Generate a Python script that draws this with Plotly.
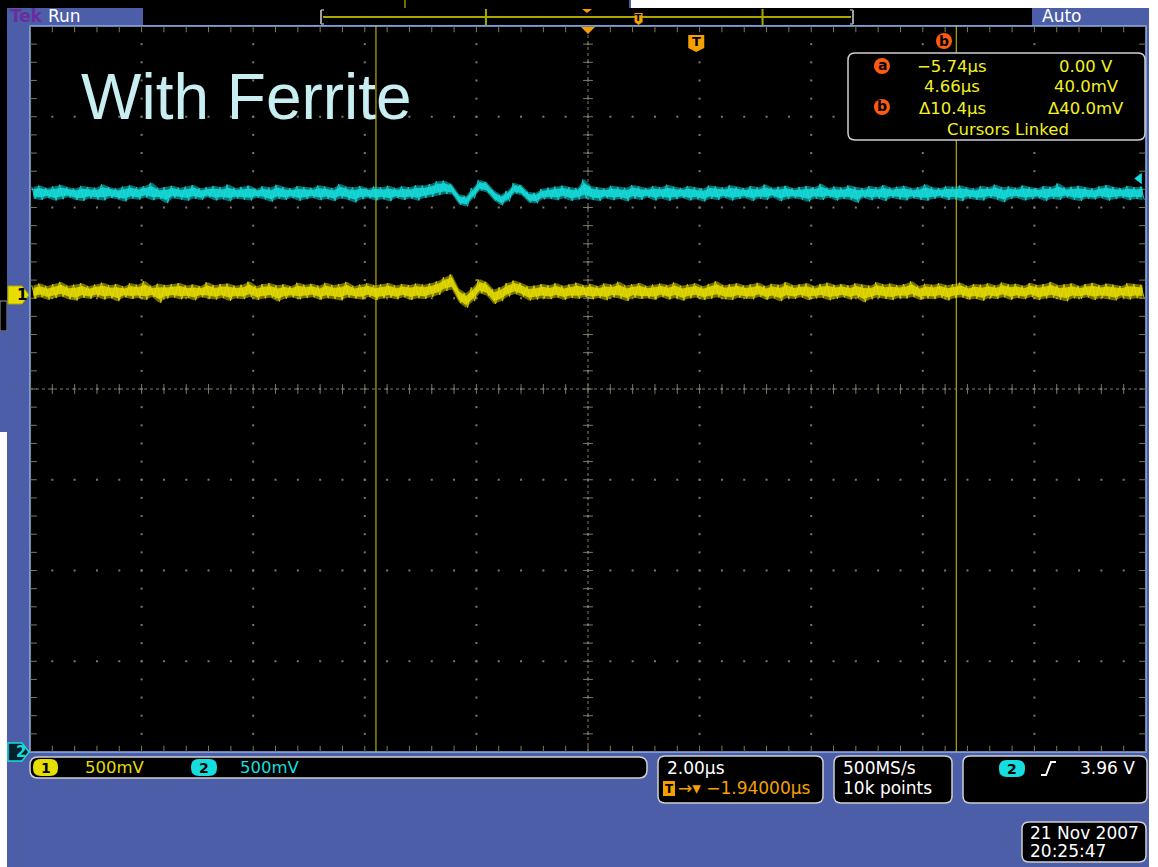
import numpy as np
import plotly.graph_objects as go

W, H = 1158, 867

# ---- acquisition settings -------------------------------------------------
ch1_scale_mv = 500
ch2_scale_mv = 500
ch1_pos_div = 1.04          # ch1 ground marker position (divisions)
ch2_pos_div = -5.6          # ch2 ground sits below the screen
time_per_div_us = 2.0
center_time_us = -1.94      # horizontal delay
trigger_level_v = 3.96
cursor_times_us = [-5.74, 4.66]
cursor_levels_mv = [0.0, 40.0]
sample_rate = "500MS/s"
record_length = "10k points"
timestamp = ["21 Nov 2007", "20:25:47"]
title_text = "With Ferrite"

# ---- peak-detect envelopes (max / min per time bin, mV) -------------------
ch2_max_mv = [
    3914, 3921, 3908, 3917, 3926, 3911, 3905, 3919, 3913, 3909,
    3928, 3912, 3904, 3916, 3922, 3910, 3918, 3936, 3907, 3913,
    3920, 3909, 3915, 3924, 3906, 3912, 3919, 3911, 3927, 3908,
    3914, 3921, 3903, 3917, 3910, 3925, 3913, 3906, 3918, 3912,
    3909, 3922, 3915, 3907, 3930, 3914, 3911, 3919, 3905, 3916,
    3912, 3920, 3908, 3917, 3911, 3923, 3921, 3929, 3945, 3948,
    3930, 3875, 3864, 3908, 3952, 3941, 3897, 3870, 3892, 3935,
    3924, 3886, 3881, 3903, 3910, 3916, 3921, 3912, 3908, 3955,
    3917, 3912, 3906, 3920, 3913, 3909, 3924, 3915, 3907, 3918,
    3911, 3926, 3914, 3908, 3919, 3912, 3905, 3921, 3916, 3910,
    3923, 3913, 3907, 3918, 3911, 3927, 3909, 3915, 3920, 3906,
    3914, 3919, 3912, 3931, 3908, 3916, 3910, 3922, 3913, 3907,
    3918, 3911, 3924, 3909, 3915, 3920, 3906, 3913, 3928, 3912,
    3908, 3917, 3914, 3921, 3910, 3905, 3919, 3913, 3926, 3911,
    3916, 3909, 3922, 3912, 3907, 3918, 3914, 3933, 3910, 3915,
    3920, 3911, 3906, 3917, 3924, 3913, 3908, 3919, 3912, 3916,
]
ch2_min_mv = [
    3848, 3841, 3853, 3838, 3845, 3856, 3842, 3836, 3850, 3844,
    3839, 3852, 3846, 3833, 3849, 3843, 3855, 3840, 3847, 3824,
    3851, 3844, 3837, 3849, 3842, 3856, 3839, 3846, 3834, 3850,
    3843, 3838, 3854, 3845, 3831, 3848, 3841, 3852, 3837, 3846,
    3853, 3840, 3847, 3836, 3850, 3843, 3828, 3845, 3851, 3839,
    3846, 3835, 3852, 3841, 3849, 3838, 3852, 3858, 3868, 3874,
    3872, 3817, 3806, 3850, 3894, 3883, 3839, 3812, 3834, 3877,
    3866, 3828, 3823, 3845, 3848, 3840, 3851, 3837, 3845, 3850,
    3843, 3836, 3851, 3840, 3847, 3834, 3849, 3842, 3855, 3838,
    3850, 3837, 3845, 3852, 3839, 3846, 3833, 3848, 3841, 3854,
    3838, 3847, 3853, 3836, 3849, 3842, 3857, 3835, 3846, 3851,
    3844, 3832, 3850, 3841, 3855, 3838, 3847, 3843, 3826, 3852,
    3840, 3849, 3836, 3853, 3845, 3839, 3851, 3842, 3837, 3848,
    3854, 3841, 3846, 3835, 3850, 3843, 3838, 3852, 3844, 3829,
    3847, 3853, 3839, 3845, 3851, 3836, 3848, 3841, 3855, 3843,
    3836, 3849, 3844, 3852, 3838, 3846, 3853, 3840, 3847, 3842,
]
ch1_max_mv = [
    52, 61, 47, 58, 70, 49, 55, 63, 46, 57,
    66, 51, 59, 45, 62, 54, 75, 48, 60, 53,
    57, 64, 50, 56, 47, 68, 52, 59, 61, 49,
    55, 72, 48, 58, 63, 51, 57, 46, 66, 54,
    60, 49, 65, 53, 58, 70, 47, 56, 62, 51,
    57, 64, 50, 59, 53, 61, 55, 62, 74, 96,
    112, 34, 8, 40, 84, 70, 28, 41, 64, 78,
    64, 46, 50, 58, 51, 63, 49, 57, 66, 52,
    59, 47, 62, 55, 71, 50, 58, 64, 48, 56,
    61, 53, 67, 49, 57, 62, 46, 59, 74, 52,
    58, 63, 50, 56, 65, 48, 60, 54, 69, 51,
    57, 62, 47, 59, 66, 53, 58, 50, 63, 55,
    49, 68, 56, 61, 52, 58, 73, 47, 60, 54,
    63, 51, 57, 66, 48, 59, 55, 62, 50, 67,
    56, 60, 49, 64, 53, 58, 70, 51, 57, 62,
    48, 59, 65, 52, 61, 55, 47, 63, 58, 54,
]
ch1_min_mv = [
    -22, -14, -28, -19, -11, -25, -33, -17, -23, -12,
    -27, -20, -36, -15, -24, -18, -29, -13, -45, -21,
    -16, -26, -19, -31, -14, -22, -27, -18, -34, -20,
    -25, -13, -29, -21, -17, -38, -23, -15, -26, -19,
    -14, -28, -20, -24, -32, -16, -22, -27, -13, -30,
    -21, -17, -26, -14, -29, -20, -24, -14, -2, 20,
    28, -44, -72, -36, 8, -6, -52, -36, -10, 4,
    -10, -32, -28, -20, -25, -16, -28, -19, -23, -14,
    -26, -18, -31, -15, -22, -35, -17, -24, -20, -28,
    -13, -27, -19, -33, -21, -16, -29, -23, -14, -25,
    -30, -17, -22, -26, -12, -28, -20, -36, -18, -24,
    -15, -29, -21, -17, -31, -23, -14, -27, -19, -42,
    -26, -16, -24, -30, -18, -22, -13, -28, -21, -25,
    -17, -32, -20, -15, -27, -23, -34, -18, -24, -14,
    -28, -19, -25, -13, -30, -21, -17, -26, -37, -20,
    -23, -15, -29, -18, -24, -32, -16, -27, -20, -22,
]

# ---- colours ---------------------------------------------------------------
FRAME = "#4b5ea7"
BORDER = "#8fb2ea"
BOX_EDGE = "#cfcfcf"
CH1 = "#e6de00"
CH2 = "#16dede"
ORANGE = "#f5a000"
CURSOR_DOT = "#ff5a10"
READOUT = "#f2f21e"
GRID = "#7d7868"
FONT = "DejaVu Sans"

# ---- pixel helpers for the instrument chrome -------------------------------
def X(px):
    return px / W


def Y(py):
    return 1 - py / H


GX0, GX1, GY0, GY1 = 30, 1146, 26, 752   # graticule box


def rect(x0, y0, x1, y1, fill, line=None, width=0, layer="below"):
    return dict(type="rect", xref="paper", yref="paper",
                x0=X(x0), x1=X(x1), y0=Y(y1), y1=Y(y0),
                fillcolor=fill, line=dict(color=line or fill, width=width),
                layer=layer)


def rrect(x0, y0, x1, y1, r, fill, line, width=1.5, layer="above"):
    p = (f"M{X(x0 + r)},{Y(y0)} L{X(x1 - r)},{Y(y0)} Q{X(x1)},{Y(y0)} {X(x1)},{Y(y0 + r)} "
         f"L{X(x1)},{Y(y1 - r)} Q{X(x1)},{Y(y1)} {X(x1 - r)},{Y(y1)} "
         f"L{X(x0 + r)},{Y(y1)} Q{X(x0)},{Y(y1)} {X(x0)},{Y(y1 - r)} "
         f"L{X(x0)},{Y(y0 + r)} Q{X(x0)},{Y(y0)} {X(x0 + r)},{Y(y0)} Z")
    return dict(type="path", xref="paper", yref="paper", path=p,
                fillcolor=fill, line=dict(color=line, width=width), layer=layer)


def poly(points, fill, line=None, width=0, layer="above"):
    p = "M" + " L".join(f"{X(a)},{Y(b)}" for a, b in points) + " Z"
    return dict(type="path", xref="paper", yref="paper", path=p,
                fillcolor=fill, line=dict(color=line or fill, width=width), layer=layer)


def seg(x0, y0, x1, y1, color, width=1, layer="above"):
    return dict(type="line", xref="paper", yref="paper",
                x0=X(x0), x1=X(x1), y0=Y(y0), y1=Y(y1),
                line=dict(color=color, width=width), layer=layer)


def circ(cx, cy, r, fill):
    return dict(type="circle", xref="paper", yref="paper",
                x0=X(cx - r), x1=X(cx + r), y0=Y(cy + r), y1=Y(cy - r),
                fillcolor=fill, line=dict(width=0), layer="above")


def label(px, py, text, color, size=16, anchor="left", family=FONT, bold=False):
    if bold:
        text = f"<b>{text}</b>"
    return dict(xref="paper", yref="paper", x=X(px), y=Y(py), text=text,
                showarrow=False, xanchor=anchor, yanchor="middle",
                font=dict(family=family, size=size, color=color))


# ---- time base ------------------------------------------------------------
t_left = center_time_us - 5 * time_per_div_us
t_right = center_time_us + 5 * time_per_div_us
n_bins = len(ch1_max_mv)
edges = np.linspace(t_left, t_right, n_bins + 1)
t_mid = 0.5 * (edges[:-1] + edges[1:])
dt = edges[1] - edges[0]


def to_div(mv, scale, pos):
    return np.asarray(mv, dtype=float) / scale + pos


def zigzag(hi, lo):
    tz = np.empty(2 * n_bins)
    vz = np.empty(2 * n_bins)
    tz[0::2] = t_mid - dt / 4
    tz[1::2] = t_mid + dt / 4
    vz[0::2] = hi
    vz[1::2] = lo
    return tz, vz


fig = go.Figure()

# ---- graticule -------------------------------------------------------------
def tdiv(k):
    return center_time_us + k * time_per_div_us


gx, gy = [], []
for k in range(-5, 6):                       # vertical grid lines
    for m in range(-20, 21):
        gx.append(tdiv(k)); gy.append(m / 5)
for j in range(-4, 5):                       # horizontal grid lines
    for m in range(-25, 26):
        gx.append(tdiv(m / 5)); gy.append(j)
fig.add_trace(go.Scatter(x=gx, y=gy, mode="markers", hoverinfo="skip",
                         marker=dict(symbol="square", size=2, color=GRID, line_width=0)))

# centre cross (fine dotted) with minor ticks
fig.add_trace(go.Scatter(x=[t_left, t_right], y=[0, 0], mode="lines", hoverinfo="skip",
                         line=dict(color=GRID, width=1, dash="dot")))
fig.add_trace(go.Scatter(x=[center_time_us, center_time_us], y=[-4, 4], mode="lines",
                         hoverinfo="skip", line=dict(color=GRID, width=1, dash="dot")))
fig.add_trace(go.Scatter(x=[tdiv(m / 5) for m in range(-25, 26)], y=[0] * 51, mode="markers",
                         hoverinfo="skip",
                         marker=dict(symbol="line-ns", size=7, line=dict(color=GRID, width=1))))
fig.add_trace(go.Scatter(x=[center_time_us] * 41, y=[m / 5 for m in range(-20, 21)],
                         mode="markers", hoverinfo="skip",
                         marker=dict(symbol="line-ew", size=7, line=dict(color=GRID, width=1))))
# edge ticks
fig.add_trace(go.Scatter(x=[tdiv(m / 5) for m in range(-25, 26)] * 2,
                         y=[3.97] * 51 + [-3.97] * 51, mode="markers", hoverinfo="skip",
                         marker=dict(symbol="line-ns", size=5, line=dict(color=GRID, width=1))))
fig.add_trace(go.Scatter(x=[tdiv(-4.97)] * 41 + [tdiv(4.97)] * 41,
                         y=[m / 5 for m in range(-20, 21)] * 2, mode="markers", hoverinfo="skip",
                         marker=dict(symbol="line-ew", size=5, line=dict(color=GRID, width=1))))

# ---- waveforms: dim envelope, bright core, peak strokes --------------------
for hi_mv, lo_mv, scale, pos, col, rgb in [
    (ch2_max_mv, ch2_min_mv, ch2_scale_mv, ch2_pos_div, CH2, "22,222,222"),
    (ch1_max_mv, ch1_min_mv, ch1_scale_mv, ch1_pos_div, CH1, "230,222,0"),
]:
    hi = to_div(hi_mv, scale, pos)
    lo = to_div(lo_mv, scale, pos)
    mid = 0.5 * (hi + lo)
    half = 0.5 * (hi - lo)
    fig.add_trace(go.Scatter(x=t_mid, y=hi, mode="lines", hoverinfo="skip",
                             line=dict(width=0, color=col)))
    fig.add_trace(go.Scatter(x=t_mid, y=lo, mode="lines", hoverinfo="skip", fill="tonexty",
                             fillcolor=f"rgba({rgb},0.5)", line=dict(width=0, color=col)))
    tz, vz = zigzag(hi, lo)
    fig.add_trace(go.Scatter(x=tz, y=vz, mode="lines", hoverinfo="skip", opacity=0.85,
                             line=dict(width=1, color=col)))
    fig.add_trace(go.Scatter(x=t_mid, y=mid + 0.62 * half, mode="lines", hoverinfo="skip",
                             line=dict(width=0, color=col)))
    fig.add_trace(go.Scatter(x=t_mid, y=mid - 0.62 * half, mode="lines", hoverinfo="skip",
                             fill="tonexty", fillcolor=f"rgba({rgb},0.85)",
                             line=dict(width=0, color=col)))

# trigger level arrow on the right edge
trig_div = trigger_level_v * 1000 / ch2_scale_mv + ch2_pos_div
fig.add_trace(go.Scatter(x=[t_right - 0.12], y=[trig_div], mode="markers", hoverinfo="skip",
                         cliponaxis=False,
                         marker=dict(symbol="triangle-left", size=10, color=CH2)))

# ---- shapes: screen chrome ------------------------------------------------
shapes = [
    rect(0, 0, 630, 8, "#000000"),
    rect(0, 0, 7, 301, "#000000"),
    rect(0, 301, 7, 331, "#000000", line="#9a9a9a", width=1),
    rect(0, 331, 7, 432, FRAME),
    rect(7, 8, 1149, 867, FRAME),
    seg(630, 0, 630, 8, FRAME, 2, "below"),
    seg(405, 0, 405, 8, CH1, 1, "below"),
    rect(143, 8, 1032, 25, "#000000"),
    rect(GX0, GY0, GX1, GY1, "#000000", line=BORDER, width=1.5),
]

# record view: whole record mapped onto the bracket
rec_x0, rec_x1 = 321, 853


def rec_px(t):
    return rec_x0 + (t - t_left) / (t_right - t_left) * (rec_x1 - rec_x0)


shapes += [
    seg(rec_x0 + 2, 17, rec_x1 - 2, 17, CH1, 1.5),
    seg(rec_x0, 10, rec_x0, 24, "#a0a0a0", 2),
    seg(rec_x1, 10, rec_x1, 24, "#a0a0a0", 2),
    seg(rec_x0, 10, rec_x0 + 3, 10, "#a0a0a0", 1.5),
    seg(rec_x0, 24, rec_x0 + 3, 24, "#a0a0a0", 1.5),
    seg(rec_x1 - 3, 10, rec_x1, 10, "#a0a0a0", 1.5),
    seg(rec_x1 - 3, 24, rec_x1, 24, "#a0a0a0", 1.5),
]
for ct in cursor_times_us:
    shapes.append(seg(rec_px(ct), 9, rec_px(ct), 25, "#a8a800", 2))
cx = rec_px(center_time_us)
shapes.append(poly([(cx - 5, 9), (cx + 5, 9), (cx, 13)], ORANGE))
tx = rec_px(0.0)
shapes.append(poly([(tx - 4, 13), (tx + 4, 13), (tx + 4, 22), (tx, 25), (tx - 4, 22)], ORANGE))

# cursor lines in the graticule
for ct in cursor_times_us:
    shapes.append(dict(type="line", xref="x", yref="paper", x0=ct, x1=ct,
                       y0=Y(GY1), y1=Y(GY0), line=dict(color="#d8cc00", width=1), layer="below"))

# horizontal position marker and trigger point marker
gcx = GX0 + (GX1 - GX0) / 2
shapes.append(poly([(gcx - 7, 27), (gcx + 7, 27), (gcx, 34)], ORANGE))
gtx = GX0 + (0.0 - t_left) / (t_right - t_left) * (GX1 - GX0)
shapes.append(poly([(gtx - 8, 35), (gtx + 8, 35), (gtx + 8, 48), (gtx, 52), (gtx - 8, 48)], ORANGE))

# channel ground markers
shapes.append(poly([(8, 286), (22, 286), (29, 295), (22, 304), (8, 304)], CH1, line="#b0a800", width=1))
shapes.append(poly([(8, 743), (22, 743), (29, 752), (22, 761), (8, 761)], "#04222a", line=CH2, width=1.5))

# cursor readout
shapes.append(rrect(848, 53, 1145, 140, 7, "#000000", BOX_EDGE))
shapes += [circ(882, 66, 8, CURSOR_DOT), circ(882, 107, 8, CURSOR_DOT), circ(944, 41, 8, CURSOR_DOT)]

# bottom status boxes
shapes += [
    rrect(30, 757, 647, 778, 8, "#000000", BOX_EDGE),
    rrect(658, 756, 823, 803, 7, "#000000", BOX_EDGE),
    rrect(834, 756, 952, 803, 7, "#000000", BOX_EDGE),
    rrect(963, 756, 1147, 803, 7, "#000000", BOX_EDGE),
    rrect(1022, 822, 1146, 862, 7, "#000000", BOX_EDGE),
    rrect(33, 759, 58, 776, 8, CH1, CH1, 0),
    rrect(191, 759, 217, 776, 8, CH2, CH2, 0),
    rrect(999, 760, 1025, 777, 8, CH2, CH2, 0),
    rect(663, 781, 675, 796, ORANGE, layer="above"),
    dict(type="path", xref="paper", yref="paper",
         path=f"M{X(1041)},{Y(775)} L{X(1046)},{Y(775)} L{X(1051)},{Y(762)} L{X(1056)},{Y(762)}",
         line=dict(color="#ffffff", width=2), layer="above"),
]

# ---- text -------------------------------------------------------------------
def fmt_time(t):
    s = f"{abs(t):.2f}µs" if abs(t) < 10 else f"{abs(t):.1f}µs"
    return ("−" if t < 0 else "") + s


def fmt_volt(mv):
    return f"{mv / 1000:.2f} V" if mv == 0 else f"{mv:.1f}mV"


d_t = cursor_times_us[1] - cursor_times_us[0]
d_v = cursor_levels_mv[1] - cursor_levels_mv[0]

ann = [
    label(8, 16.5, "Tek", "#6a2c9e", 17, bold=True),
    label(46, 16.5, "Run", "#ffffff", 17),
    label(1040, 16.5, "Auto", "#ffffff", 17),
    label(79, 97, title_text, "#c8eef2", 64, family="Liberation Sans"),
    label(gtx, 42, "T", "#000000", 13, anchor="center", bold=True),
    label(tx, 18, "T", "#000000", 9, anchor="center", bold=True),
    label(944, 41, "b", "#000000", 14, anchor="center", bold=True),
    label(882, 65, "a", "#000000", 14, anchor="center", bold=True),
    label(882, 106, "b", "#000000", 14, anchor="center", bold=True),
    label(952, 66, fmt_time(cursor_times_us[0]), READOUT, 16.5, anchor="center"),
    label(1086, 66, fmt_volt(cursor_levels_mv[0]), READOUT, 16.5, anchor="center"),
    label(952, 87, fmt_time(cursor_times_us[1]), READOUT, 16.5, anchor="center"),
    label(1086, 87, fmt_volt(cursor_levels_mv[1]), READOUT, 16.5, anchor="center"),
    label(952, 108, "Δ" + (f"{d_t:.1f}µs"), READOUT, 16.5, anchor="center"),
    label(1086, 108, "Δ" + fmt_volt(d_v), READOUT, 16.5, anchor="center"),
    label(1008, 129, "Cursors Linked", READOUT, 16.5, anchor="center"),
    label(15, 295, "1", "#000000", 15, bold=True),
    label(14, 752, "2", CH2, 15, bold=True),
    label(45.5, 767.5, "1", "#000000", 14, anchor="center", bold=True),
    label(83, 767.5, f"{ch1_scale_mv}mV", CH1, 16.5),
    label(204, 767.5, "2", "#000000", 14, anchor="center", bold=True),
    label(238, 767.5, f"{ch2_scale_mv}mV", CH2, 16.5),
    label(665, 768, f"{time_per_div_us:.2f}µs", "#ffffff", 17),
    label(669, 788.5, "T", "#000000", 12, anchor="center", bold=True),
    label(676, 788, "→▾ " + fmt_time(center_time_us).replace("µs", "000µs"), ORANGE, 17),
    label(841, 768, sample_rate, "#ffffff", 17),
    label(841, 788, record_length, "#ffffff", 17),
    label(1012, 768.5, "2", "#000000", 14, anchor="center", bold=True),
    label(1137, 768, f"{trigger_level_v:.2f} V", "#ffffff", 17, anchor="right"),
    label(1028, 833, timestamp[0], "#ffffff", 17),
    label(1028, 851, timestamp[1], "#ffffff", 17),
]

fig.update_layout(
    width=W, height=H,
    margin=dict(l=0, r=0, t=0, b=0, pad=0),
    paper_bgcolor="#ffffff",
    plot_bgcolor="rgba(0,0,0,0)",
    showlegend=False,
    xaxis=dict(domain=[X(GX0), X(GX1)], range=[t_left, t_right], visible=False,
               fixedrange=True),
    yaxis=dict(domain=[Y(GY1), Y(GY0)], range=[-4, 4], visible=False, fixedrange=True),
    shapes=shapes,
    annotations=ann,
)

fig.write_html("out.html")
